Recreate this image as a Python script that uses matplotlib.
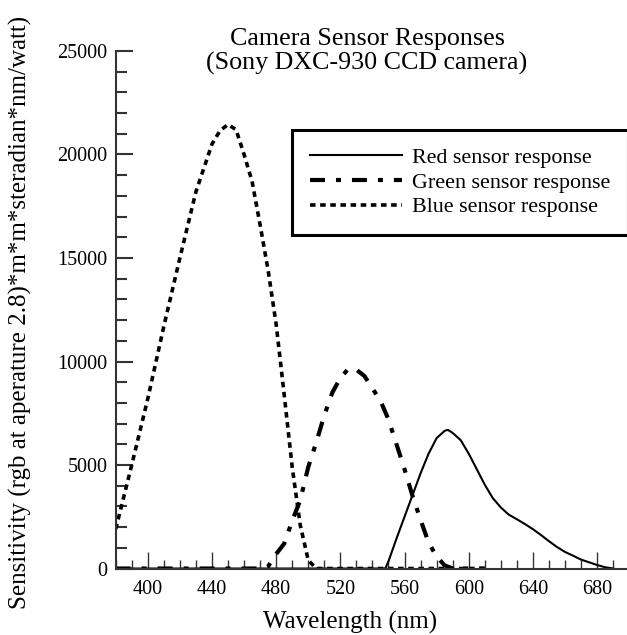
import matplotlib

matplotlib.use('Agg')
import matplotlib.pyplot as plt
from matplotlib.ticker import MultipleLocator

plt.rcParams['font.family'] = 'Liberation Serif'
plt.rcParams['lines.scale_dashes'] = False

# red sensor response (wavelength nm, sensitivity)
red_wl = [380, 400, 450, 500, 548, 550, 555, 560, 565, 570, 575, 580, 585, 587, 590,
          595, 600, 605, 610, 615, 620, 625, 630, 635, 640, 645, 650, 655, 660,
          665, 670, 675, 680, 685, 690]
red_val = [0, 0, 0, 0, 0, 350, 1450, 2500, 3550, 4600, 5550, 6300, 6650, 6700, 6550,
           6200, 5550, 4800, 4050, 3400, 2950, 2600, 2380, 2150, 1900, 1620, 1320, 1040, 800,
           620, 430, 300, 170, 60, 0]

# green sensor response
green_wl = [380, 420, 460, 472, 475, 480, 485, 490, 495, 500, 505, 510, 515, 520, 525,
            530, 535, 540, 545, 550, 555, 560, 565, 570, 575, 580, 585, 590, 600, 610]
green_val = [0, 0, 0, 0, 100, 700, 1200, 2300, 3300, 4900, 6100, 7400, 8500, 9200, 9650,
             9600, 9300, 8700, 8100, 7200, 6000, 4800, 3500, 2350, 1250, 580, 150, 0, 0, 0]

# blue sensor response
blue_wl = [380, 390, 400, 410, 420, 430, 440, 445, 450, 455, 460, 465, 470, 475, 480,
           485, 490, 495, 500, 505, 550, 610]
blue_val = [1900, 5000, 8200, 11700, 15000, 18200, 20500, 21150, 21450, 21200, 20000,
            18700, 16600, 14400, 11800, 8400, 4900, 2100, 400, 0, 0, 0]

fig = plt.figure(figsize=(6.27, 6.35), dpi=100)
ax = fig.add_axes([0.1845, 0.1047, 0.819, 0.815])

ax.plot(red_wl, red_val, color='black', linewidth=1.5, label='Red sensor response')
ax.plot(green_wl, green_val, color='black', linewidth=3.0,
        linestyle=(0, (10.8, 7.9, 3.6, 7.9)), label='Green sensor response')
ax.plot(blue_wl, blue_val, color='black', linewidth=2.6,
        linestyle=(0, (4.0, 3.3)), label='Blue sensor response')

ax.set_xlim(380, 700)
ax.set_ylim(0, 25000)
ax.set_xticks(range(400, 681, 40))
ax.xaxis.set_minor_locator(MultipleLocator(10))
ax.set_yticks(range(0, 25001, 5000))
ax.yaxis.set_minor_locator(MultipleLocator(1000))

ax.spines['top'].set_visible(False)
ax.spines['right'].set_visible(False)
for side in ['left', 'bottom']:
    ax.spines[side].set_linewidth(1.5)
    ax.spines[side].set_color('#333333')

ax.tick_params(axis='both', which='both', direction='in', labelsize=14.5, colors='#333333',
               labelcolor='black')
ax.tick_params(axis='y', which='major', length=12, width=1.5, pad=6)
ax.tick_params(axis='y', which='minor', length=8, width=1.5)
ax.tick_params(axis='x', which='major', length=12, width=1.0, pad=8)
ax.tick_params(axis='x', which='minor', length=6.5, width=1.0)

# titles and axis labels
fig.text(367 / 627, 1 - 45 / 635, 'Camera Sensor Responses', ha='center', va='baseline',
         fontsize=18.7)
fig.text(367 / 627, 1 - 70 / 635, '(Sony DXC-930 CCD camera)', ha='center', va='baseline',
         fontsize=18.7)
fig.text(350 / 627, 1 - 622 / 635, 'Wavelength (nm)', ha='center', va='center', fontsize=18)
fig.text(20 / 627, 1 - 312 / 635, 'Sensitivity (rgb at aperature 2.8)*m*m*steradian*nm/watt)',
         ha='center', va='center', rotation=90, fontsize=18)

leg = ax.legend(loc='upper left', bbox_to_anchor=(292 / 627, 1 - 130 / 635),
                bbox_transform=fig.transFigure, borderaxespad=0, fontsize=15.8,
                handlelength=4.2, handletextpad=0.45, labelspacing=0.2, borderpad=0.8,
                fancybox=False, framealpha=1)
leg.get_frame().set_edgecolor('black')
leg.get_frame().set_linewidth(2.2)

fig.savefig('out.png', dpi=100)
